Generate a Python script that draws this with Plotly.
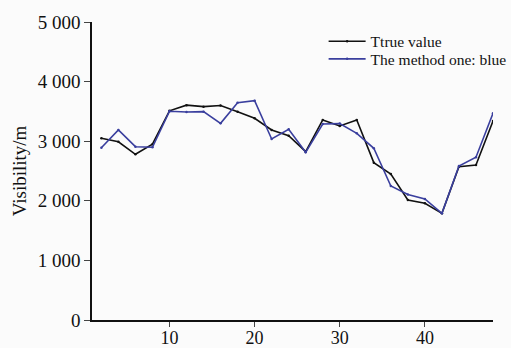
import plotly.graph_objects as go

x_vals = list(range(2, 49, 2))
true_vals = [3050, 2990, 2780, 2950, 3510, 3605, 3580, 3600, 3496, 3384, 3188, 3093,
             2825, 3356, 3255, 3356, 2640, 2450, 2014, 1958, 1790, 2573, 2601, 3340]
method_one = [2890, 3188, 2908, 2898, 3502, 3490, 3496, 3300, 3647, 3680, 3037, 3200,
              2814, 3289, 3295, 3132, 2881, 2249, 2105, 2030, 1790, 2584, 2730, 3468]
names = ["Ttrue value", "The method one: blue"]
colors = ["#111111", "#3a3f9e"]
legends = ["legend", "legend2"]

fig = go.Figure()
for name, ys, c, lg in zip(names, [true_vals, method_one], colors, legends):
    fig.add_trace(go.Scatter(x=x_vals, y=ys, name=name, mode="lines+markers",
                             line=dict(color=c, width=1.6),
                             marker=dict(size=2.5, color=c), legend=lg))

font = "Liberation Serif, Times New Roman, serif"
leg_common = dict(xanchor="left", yanchor="top", bgcolor="rgba(0,0,0,0)",
                  font=dict(size=15.5, family=font), itemwidth=37)
fig.update_layout(
    width=511, height=348,
    margin=dict(l=92, r=18, t=22, b=28, autoexpand=False),
    paper_bgcolor="#fbfbfb", plot_bgcolor="#fbfbfb",
    font=dict(family=font, size=18, color="#111111"),
    separators=". ",
    showlegend=True,
    legend=dict(x=0.5776, y=0.991, **leg_common),
    legend2=dict(x=0.5776, y=0.932, **leg_common),
)
fig.update_xaxes(range=[0.9, 48], tickvals=[10, 20, 30, 40], ticks="outside", ticklen=5,
                 tickwidth=1.3, showline=True, linecolor="#111111", linewidth=1.5,
                 showgrid=False, zeroline=False, tickfont=dict(size=18), automargin=False,
                 ticklabelstandoff=-4)
fig.update_yaxes(range=[0, 5000], tickvals=[0, 1000, 2000, 3000, 4000, 5000],
                 tickformat=",d", ticks="outside", ticklen=6, tickwidth=1.3,
                 showline=True, linecolor="#111111", linewidth=1.5,
                 showgrid=False, zeroline=False, tickfont=dict(size=19), automargin=False,
                 title=dict(text="Visibility/m", font=dict(size=19), standoff=6))

fig.write_html("out.html")
